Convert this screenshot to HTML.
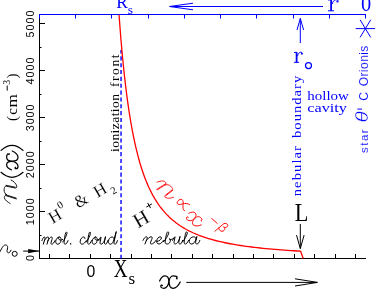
<!DOCTYPE html>
<html><head><meta charset="utf-8"><style>
html,body{margin:0;padding:0;background:#fff;overflow:hidden}
svg{display:block;will-change:transform}
</style></head><body>
<svg width="389" height="291" viewBox="0 0 389 291">
<rect width="389" height="291" fill="#fff"/>
<path d="M39.5 259.0V14.5" stroke="#000000" stroke-width="1" fill="none"/>
<path d="M39.0 258.5H366.0" stroke="#000000" stroke-width="1" fill="none"/>
<path d="M39.0 14.5H366.0" stroke="#0000ff" stroke-width="1" fill="none"/>
<path d="M39.5 258.50h5.5M39.5 235.50h2M39.5 211.50h5.5M39.5 188.50h2M39.5 164.50h5.5M39.5 141.50h2M39.5 117.50h5.5M39.5 94.50h2M39.5 70.50h5.5M39.5 47.50h2M39.5 23.50h5.5" stroke="#000000" stroke-width="1" fill="none"/>
<path d="M49.50 258.5v-4.5M69.50 258.5v-4.5M90.50 258.5v-4.5M110.50 258.5v-4.5M131.50 258.5v-4.5M151.50 258.5v-4.5M171.50 258.5v-4.5M192.50 258.5v-4.5M212.50 258.5v-4.5M233.50 258.5v-4.5M253.50 258.5v-4.5M273.50 258.5v-4.5M294.50 258.5v-4.5M314.50 258.5v-4.5M335.50 258.5v-4.5M355.50 258.5v-4.5" stroke="#000000" stroke-width="1" fill="none"/>
<path d="M365.50 14.5v4M329.50 14.5v4M293.50 14.5v4M256.50 14.5v4M220.50 14.5v4M184.50 14.5v4M148.50 14.5v4M111.50 14.5v4M75.50 14.5v4M39.5 14.5v4" stroke="#0000ff" stroke-width="1" fill="none"/>
<text transform="translate(34.2 257.90) rotate(-90)" text-anchor="middle" style="font-family:'Liberation Sans',sans-serif" font-size="10.8" textLength="6.0" lengthAdjust="spacing" fill="#000000">0</text>
<text transform="translate(34.2 211.82) rotate(-90)" text-anchor="middle" style="font-family:'Liberation Sans',sans-serif" font-size="10.8" textLength="27.0" lengthAdjust="spacing" fill="#000000">1000</text>
<text transform="translate(34.2 164.84) rotate(-90)" text-anchor="middle" style="font-family:'Liberation Sans',sans-serif" font-size="10.8" textLength="27.0" lengthAdjust="spacing" fill="#000000">2000</text>
<text transform="translate(34.2 117.86) rotate(-90)" text-anchor="middle" style="font-family:'Liberation Sans',sans-serif" font-size="10.8" textLength="27.0" lengthAdjust="spacing" fill="#000000">3000</text>
<text transform="translate(34.2 70.88) rotate(-90)" text-anchor="middle" style="font-family:'Liberation Sans',sans-serif" font-size="10.8" textLength="27.0" lengthAdjust="spacing" fill="#000000">4000</text>
<text transform="translate(34.2 23.90) rotate(-90)" text-anchor="middle" style="font-family:'Liberation Sans',sans-serif" font-size="10.8" textLength="27.0" lengthAdjust="spacing" fill="#000000">5000</text>
<text x="86.4" y="276.8" style="font-family:'Liberation Sans',sans-serif" font-size="16.4" textLength="8.8" lengthAdjust="spacingAndGlyphs" fill="#000000">0</text>
<path d="M121.05 258.5V50" stroke="#0000ff" stroke-width="1.4" stroke-dasharray="4.1 2.74" stroke-dashoffset="0.3" fill="none"/>
<path d="M119.05 14.71 L119.05 14.78 L119.07 15.02 L119.10 15.47 L119.15 16.13 L119.22 17.03 L119.30 18.16 L119.40 19.53 L119.52 21.15 L119.66 23.00 L119.82 25.10 L120.00 27.43 L120.20 29.98 L120.42 32.76 L120.66 35.74 L120.92 38.93 L121.21 42.30 L121.51 45.86 L121.85 49.57 L122.20 53.43 L122.57 57.43 L122.97 61.55 L123.40 65.77 L123.84 70.09 L124.31 74.48 L124.81 78.93 L125.33 83.43 L125.87 87.96 L126.44 92.51 L127.03 97.07 L127.65 101.62 L128.29 106.16 L128.96 110.66 L129.66 115.13 L130.38 119.56 L131.12 123.93 L131.89 128.24 L132.69 132.47 L133.52 136.64 L134.37 140.72 L135.24 144.72 L136.15 148.62 L137.08 152.44 L138.04 156.16 L139.02 159.79 L140.03 163.31 L141.07 166.74 L142.14 170.06 L143.23 173.29 L144.36 176.41 L145.51 179.44 L146.68 182.37 L147.89 185.20 L149.12 187.93 L150.39 190.57 L151.68 193.11 L153.00 195.57 L154.35 197.93 L155.72 200.21 L157.13 202.41 L158.56 204.52 L160.03 206.55 L161.52 208.50 L163.04 210.38 L164.59 212.18 L166.17 213.92 L167.78 215.59 L169.42 217.19 L171.09 218.72 L172.79 220.20 L174.51 221.61 L176.27 222.97 L178.06 224.28 L179.88 225.53 L181.73 226.73 L183.61 227.88 L185.51 228.99 L187.45 230.05 L189.42 231.07 L191.42 232.04 L193.45 232.98 L195.52 233.88 L197.61 234.74 L199.73 235.57 L201.88 236.36 L204.07 237.13 L206.29 237.86 L208.53 238.56 L210.81 239.23 L213.12 239.88 L215.46 240.50 L217.83 241.10 L220.24 241.67 L222.67 242.22 L225.14 242.74 L227.64 243.25 L230.17 243.74 L232.73 244.20 L235.33 244.65 L237.95 245.09 L240.61 245.50 L243.30 245.90 L246.02 246.28 L248.78 246.65 L251.57 247.01 L254.39 247.35 L257.24 247.67 L260.12 247.99 L263.04 248.29 L265.99 248.59 L268.97 248.87 L271.99 249.14 L275.03 249.40 L278.11 249.65 L281.23 249.89 L284.37 250.12 L287.55 250.35 L290.76 250.57 L294.01 250.77 L297.29 250.98 L300.60 251.17 L303.2 258.5" stroke="#ff0000" stroke-width="1.3" fill="none" stroke-linejoin="round"/>
<path d="M323 6.5H170M193 3.2L169.5 6.5L193 9.8" stroke="#0000ff" stroke-width="1" fill="none"/>
<path d="M186.3 282.4H317M295 278.8L317.5 282.4L295 286" stroke="#000000" stroke-width="1" fill="none"/>
<path d="M300.3 43V18.6M297 30L300.3 18.4L303.6 30" stroke="#0000ff" stroke-width="1" fill="none"/>
<path d="M300.3 224V248.3M296.5 235.1L300.3 248.6L304.1 235.1" stroke="#000000" stroke-width="1" fill="none"/>
<path d="M23.2 251.1H39" stroke="#000000" stroke-width="1" fill="none"/><path d="M28.2 248.9L39.4 251.1L28.2 253.3Z" fill="#000000"/>
<path d="M355.7 28.6H375.09999999999997M360.09999999999997 19.8L370.7 37.400000000000006M370.7 19.8L360.09999999999997 37.400000000000006" stroke="#0000ff" stroke-width="1" fill="none"/>
<text x="116.2" y="8.4" style="font-family:'Liberation Serif',serif" font-size="18" textLength="11.6" lengthAdjust="spacingAndGlyphs" fill="#0000ff">R</text>
<text x="127.8" y="13.9" style="font-family:'Liberation Serif',serif" font-size="13.5" fill="#0000ff">s</text>
<g transform="translate(328.0 10.9) scale(1.2 -1.1)" fill="none" stroke="#0000ff" stroke-linecap="butt"><path d="M2.6 0V10.2" stroke-width="1.8" vector-effect="non-scaling-stroke"/><path d="M0 0.1H5.0M0 9.9L2.6 10.1M3.5 6.2C4.0 8.8 5.4 10.2 6.8 10.2C7.8 10.2 8.3 9.6 8.3 9" stroke-width="1" vector-effect="non-scaling-stroke"/><circle cx="7.9" cy="8.6" r="0.95" fill="#0000ff" stroke="none"/></g>
<text x="361.0" y="11.0" style="font-family:'Liberation Serif',serif" font-size="23" textLength="10.2" lengthAdjust="spacingAndGlyphs" fill="#0000ff">0</text>
<g transform="translate(294.0 62.4) scale(1.0 -1.0)" fill="none" stroke="#0000ff" stroke-linecap="butt"><path d="M2.6 0V10.2" stroke-width="1.8" vector-effect="non-scaling-stroke"/><path d="M0 0.1H5.0M0 9.9L2.6 10.1M3.5 6.2C4.0 8.8 5.4 10.2 6.8 10.2C7.8 10.2 8.3 9.6 8.3 9" stroke-width="1" vector-effect="non-scaling-stroke"/><circle cx="7.9" cy="8.6" r="0.95" fill="#0000ff" stroke="none"/></g>
<circle cx="308.5" cy="65.6" r="3.0" stroke="#0000ff" stroke-width="1.2" fill="none"/>
<text x="307.3" y="99.8" style="font-family:'Liberation Serif',serif" font-size="13" textLength="41.6" lengthAdjust="spacingAndGlyphs" fill="#0000ff">hollow</text>
<text x="307.3" y="112" style="font-family:'Liberation Serif',serif" font-size="13" textLength="39.7" lengthAdjust="spacingAndGlyphs" fill="#0000ff">cavity</text>
<text transform="translate(301.0 196.3) rotate(-90) scale(1 0.82)" style="font-family:'Liberation Serif',serif" font-size="14.6" textLength="50.3" lengthAdjust="spacing" fill="#0000ff">nebular</text>
<text transform="translate(301.0 138.0) rotate(-90) scale(1 0.82)" style="font-family:'Liberation Serif',serif" font-size="14.6" textLength="62.3" lengthAdjust="spacing" fill="#0000ff">boundary</text>
<text transform="translate(118.8 152.0) rotate(-90) scale(1 0.88)" style="font-family:'Liberation Serif',serif" font-size="13.6" textLength="58.0" lengthAdjust="spacing" fill="#000000">ionization</text>
<text transform="translate(118.8 87.0) rotate(-90) scale(1 0.88)" style="font-family:'Liberation Serif',serif" font-size="13.6" textLength="32.5" lengthAdjust="spacing" fill="#000000">front</text>
<text transform="translate(367.5 153) rotate(-90)" style="font-family:'Liberation Sans',sans-serif" font-size="11.5" textLength="23.7" lengthAdjust="spacing" fill="#0000ff" stroke="#fff" stroke-width="0.1">star</text>
<text transform="translate(367.6 122.6) rotate(-90)" style="font-family:'Liberation Sans',sans-serif" font-size="17.5" font-style="italic" textLength="11.2" lengthAdjust="spacingAndGlyphs" fill="#0000ff" stroke="#fff" stroke-width="0.45">θ</text>
<path d="M357.4 109.1H362" stroke="#0000ff" stroke-width="1" fill="none"/>
<text transform="translate(367.5 100.7) rotate(-90)" style="font-family:'Liberation Sans',sans-serif" font-size="12" fill="#0000ff" stroke="#fff" stroke-width="0.1">C</text>
<text transform="translate(367.5 86.2) rotate(-90)" style="font-family:'Liberation Sans',sans-serif" font-size="12" textLength="40.5" lengthAdjust="spacing" fill="#0000ff" stroke="#fff" stroke-width="0.1">Orionis</text>
<text transform="translate(17.4 121.0) rotate(-90)" style="font-family:'Liberation Serif',serif" font-size="15" fill="#000000" >(</text>
<text transform="translate(17.4 114.8) rotate(-90)" style="font-family:'Liberation Serif',serif" font-size="15" fill="#000000" >c</text>
<text transform="translate(17.4 107.6) rotate(-90)" style="font-family:'Liberation Serif',serif" font-size="15" fill="#000000" textLength="13.4" lengthAdjust="spacingAndGlyphs">m</text>
<path d="M7.2 90.6V85.5" stroke="#000000" stroke-width="1" fill="none"/>
<text transform="translate(10.1 84.7) rotate(-90)" style="font-family:'Liberation Serif',serif" font-size="9.8" fill="#000000" >3</text>
<text transform="translate(17.4 78.4) rotate(-90)" style="font-family:'Liberation Serif',serif" font-size="15" fill="#000000" >)</text>
<g transform="translate(17.6 203.5) rotate(-90) scale(1.0 1.0)"><path d="M 0 -7.5 C 1.5 -10 3.5 -12.6 5.3 -13.1 C 6.5 -13.5 7.6 -13 8 -12 L 4.6 -1.3 M 8.8 -12.2 L 5.4 -1.4 M 8.5 -10.8 C 9.5 -12.4 11.5 -13.6 13.7 -13.5 C 15.3 -13.4 16.7 -13 17.2 -12.2 L 17.4 -11.6 L 15.5 -2.5 C 15.3 -1.2 16.2 -0.5 17.6 -0.9 C 20 -1.6 22.3 -4 23.5 -6.5 M 18.2 -11.6 L 16.3 -2.4" fill="none" stroke="#000000" stroke-width="0.9" vector-effect="non-scaling-stroke" stroke-linecap="round" stroke-linejoin="round"/></g>
<g transform="translate(18.54 177.3) rotate(-90) scale(1.0 1.0)"><path d="M 5 -17.5 C 1 -13 0 -9 0 -6.5 C 0 -4 1 -0 5 4.5" fill="none" stroke="#000000" stroke-width="1.25" vector-effect="non-scaling-stroke" stroke-linecap="round" stroke-linejoin="round"/></g>
<g transform="translate(18.0 169.8) rotate(-90) scale(0.91 0.91)"><path d="M 0 -7.3 C 1 -10 3 -12.5 5.5 -12.5 C 8 -12.5 9.2 -10.5 9.2 -7 C 9.2 -3 6.5 -0 4 -0 C 2.3 -0 1.2 -1 1.2 -2.3 C 1.2 -3.2 2.2 -3.6 2.8 -2.8 M 17.6 -9.6 C 16.8 -9.2 16.6 -10.4 17.4 -10.8 C 18 -11.5 16 -12.5 13.8 -12.5 C 11 -12.5 9.5 -9.5 9.5 -6.2 C 9.5 -2.5 11 -0 13.5 -0 C 16 -0 19 -3 20.6 -6.3" fill="none" stroke="#000000" stroke-width="1.25" vector-effect="non-scaling-stroke" stroke-linecap="round" stroke-linejoin="round"/></g>
<g transform="translate(18.54 150.4) rotate(-90) scale(1.0 1.0)"><path d="M 0 -17.5 C 4 -13 5 -9 5 -6.5 C 5 -4 4 -0 0 4.5" fill="none" stroke="#000000" stroke-width="1.25" vector-effect="non-scaling-stroke" stroke-linecap="round" stroke-linejoin="round"/></g>
<path d="M-0.5 252.6C1.2 249.5 3 245 5.4 245C7.2 245 7.8 246.2 7.6 247.6L7.1 250.4C6.9 252.1 7.6 252.8 8.6 252.8C9.6 252.8 10.4 251.6 11 250.2" stroke="#000000" stroke-width="1" fill="none" stroke-linecap="round"/>
<circle cx="14.7" cy="253.8" r="2.5" stroke="#000000" stroke-width="1" fill="none"/>
<text x="113.7" y="276.9" style="font-family:'Liberation Serif',serif" font-size="25" textLength="13.8" lengthAdjust="spacingAndGlyphs" fill="#000000">X</text>
<text x="128.6" y="283.8" style="font-family:'Liberation Serif',serif" font-size="17" fill="#000000">s</text>
<g transform="translate(159.6 288.3) rotate(0) scale(1.0 1.0)"><path d="M 0 -7.3 C 1 -10 3 -12.5 5.5 -12.5 C 8 -12.5 9.2 -10.5 9.2 -7 C 9.2 -3 6.5 -0 4 -0 C 2.3 -0 1.2 -1 1.2 -2.3 C 1.2 -3.2 2.2 -3.6 2.8 -2.8 M 17.6 -9.6 C 16.8 -9.2 16.6 -10.4 17.4 -10.8 C 18 -11.5 16 -12.5 13.8 -12.5 C 11 -12.5 9.5 -9.5 9.5 -6.2 C 9.5 -2.5 11 -0 13.5 -0 C 16 -0 19 -3 20.6 -6.3" fill="none" stroke="#000000" stroke-width="1.25" vector-effect="non-scaling-stroke" stroke-linecap="round" stroke-linejoin="round"/></g>
<text x="294.8" y="220.8" style="font-family:'Liberation Serif',serif" font-size="26" textLength="13.6" lengthAdjust="spacingAndGlyphs" fill="#000000">L</text>
<g transform="translate(41.9 244.2) scale(0.7081 0.7200)"><path d="M 0 -5 C 1 -7.5 2 -10 3.5 -10 C 4.8 -10 4.5 -8 4 -6.5 L 2 -0 M 3.3 -4.5 C 4.8 -7.5 6.8 -10 8.5 -10 C 9.8 -10 9.6 -8 9.1 -6.5 L 7.2 -0 M 8.4 -4.5 C 9.9 -7.5 11.9 -10 13.6 -10 C 15 -10 14.7 -8 14.2 -6.5 L 13 -2.5 C 12.5 -0.7 13 -0 14 -0 C 15.5 -0 17 -2 18.5 -5" fill="none" stroke="#000" stroke-width="1.0" vector-effect="non-scaling-stroke" stroke-linecap="round" stroke-linejoin="round"/></g>
<g transform="translate(55 244.2) scale(0.7130 0.7200)"><path d="M 6 -10 C 3.5 -10 1 -7 1 -3.5 C 1 -1.2 2.2 -0 4 -0 C 6.5 -0 8.5 -3 8.5 -6.5 C 8.5 -8.8 7.5 -10 6 -10 C 5 -10 4.5 -9 5 -7.5 C 5.8 -5.5 8.5 -5 10.8 -6.5" fill="none" stroke="#000" stroke-width="1.0" vector-effect="non-scaling-stroke" stroke-linecap="round" stroke-linejoin="round"/></g>
<g transform="translate(62.7 244.2) scale(0.7067 0.7200)"><path d="M 0 -3 C 2.5 -6 5.5 -12 6 -15 C 6.3 -17 5 -17.5 4.3 -16 C 3.2 -13.5 2.2 -6 2 -2.5 C 1.9 -0.8 2.5 -0 3.5 -0 C 5 -0 6.3 -2 7.5 -5" fill="none" stroke="#000" stroke-width="1.0" vector-effect="non-scaling-stroke" stroke-linecap="round" stroke-linejoin="round"/></g>
<g transform="translate(69.5 244.2) scale(0.7500 0.7200)"><path d="M 1.2 -0.2 L 1.9 -0.9 M 1.9 -0.2 L 1.2 -0.9" fill="none" stroke="#000" stroke-width="1.0" vector-effect="non-scaling-stroke" stroke-linecap="round" stroke-linejoin="round"/></g>
<g transform="translate(79.5 244.2) scale(0.6869 0.7200)"><path d="M 8 -8 C 8 -9.5 7 -10 6 -10 C 3.5 -10 1 -7 1 -3.5 C 1 -1.2 2.2 -0 4 -0 C 6 -0 8.3 -2.5 9.9 -5" fill="none" stroke="#000" stroke-width="1.0" vector-effect="non-scaling-stroke" stroke-linecap="round" stroke-linejoin="round"/></g>
<g transform="translate(86.3 244.2) scale(0.6933 0.7200)"><path d="M 0 -3 C 2.5 -6 5.5 -12 6 -15 C 6.3 -17 5 -17.5 4.3 -16 C 3.2 -13.5 2.2 -6 2 -2.5 C 1.9 -0.8 2.5 -0 3.5 -0 C 5 -0 6.3 -2 7.5 -5" fill="none" stroke="#000" stroke-width="1.0" vector-effect="non-scaling-stroke" stroke-linecap="round" stroke-linejoin="round"/></g>
<g transform="translate(91.5 244.2) scale(0.6759 0.7200)"><path d="M 6 -10 C 3.5 -10 1 -7 1 -3.5 C 1 -1.2 2.2 -0 4 -0 C 6.5 -0 8.5 -3 8.5 -6.5 C 8.5 -8.8 7.5 -10 6 -10 C 5 -10 4.5 -9 5 -7.5 C 5.8 -5.5 8.5 -5 10.8 -6.5" fill="none" stroke="#000" stroke-width="1.0" vector-effect="non-scaling-stroke" stroke-linecap="round" stroke-linejoin="round"/></g>
<g transform="translate(98.8 244.2) scale(0.7500 0.7200)"><path d="M 0 -5 C 1 -7.5 2 -10 3 -10 L 1.8 -3 C 1.4 -1 2 -0 3.2 -0 C 5 -0 7 -3.5 8 -6.5 L 8.8 -10 M 8.8 -10 L 7.5 -3 C 7.2 -1 7.8 -0 9 -0 C 10.2 -0 11.2 -2 12 -5" fill="none" stroke="#000" stroke-width="1.0" vector-effect="non-scaling-stroke" stroke-linecap="round" stroke-linejoin="round"/></g>
<g transform="translate(107.8 244.2) scale(0.7619 0.7200)"><path d="M 8.3 -7 C 8 -9 7 -10 5.5 -10 C 3 -10 0.8 -7 0.8 -3.5 C 0.8 -1.2 2 -0 3.6 -0 C 5.5 -0 7.3 -3 8.3 -7 L 11 -17 M 11 -17 L 8.2 -3 C 7.8 -1 8.4 -0 9.5 -0 C 10.8 -0 11.8 -2 12.6 -5" fill="none" stroke="#000" stroke-width="1.0" vector-effect="non-scaling-stroke" stroke-linecap="round" stroke-linejoin="round"/></g>
<g transform="translate(143 244.0) scale(0.9627 0.7200)"><path d="M 0 -5 C 1 -7.5 2 -10 3.5 -10 C 4.8 -10 4.5 -8 4 -6.5 L 2 -0 M 3.3 -4.5 C 4.8 -7.5 6.8 -10 8.5 -10 C 9.9 -10 9.6 -8 9.1 -6.5 L 7.9 -2.5 C 7.4 -0.7 7.9 -0 8.9 -0 C 10.4 -0 11.9 -2 13.4 -5" fill="none" stroke="#000" stroke-width="1.0" vector-effect="non-scaling-stroke" stroke-linecap="round" stroke-linejoin="round"/></g>
<g transform="translate(155.9 244.0) scale(0.7895 0.7200)"><path d="M 1.5 -3.5 C 4 -4 7 -6 7 -8.5 C 7 -9.5 6.3 -10 5.5 -10 C 3.3 -10 1 -7 1 -3.5 C 1 -1.2 2.2 -0 4 -0 C 6 -0 8 -2.5 9.5 -5" fill="none" stroke="#000" stroke-width="1.0" vector-effect="non-scaling-stroke" stroke-linecap="round" stroke-linejoin="round"/></g>
<g transform="translate(163.4 244.0) scale(0.8762 0.7200)"><path d="M 0 -3 C 2.5 -6 5.5 -12 6 -15 C 6.3 -17 5 -17.5 4.3 -16 C 3.2 -13.5 2.2 -6 2 -2.5 C 1.9 -0.8 3 -0 4.5 -0 C 6.5 -0 8 -2.5 8 -5.5 C 8 -7 7.2 -7.5 6.5 -7 C 7.5 -6 9 -6 10.5 -7" fill="none" stroke="#000" stroke-width="1.0" vector-effect="non-scaling-stroke" stroke-linecap="round" stroke-linejoin="round"/></g>
<g transform="translate(172.6 244.0) scale(0.8333 0.7200)"><path d="M 0 -5 C 1 -7.5 2 -10 3 -10 L 1.8 -3 C 1.4 -1 2 -0 3.2 -0 C 5 -0 7 -3.5 8 -6.5 L 8.8 -10 M 8.8 -10 L 7.5 -3 C 7.2 -1 7.8 -0 9 -0 C 10.2 -0 11.2 -2 12 -5" fill="none" stroke="#000" stroke-width="1.0" vector-effect="non-scaling-stroke" stroke-linecap="round" stroke-linejoin="round"/></g>
<g transform="translate(182.6 244.0) scale(0.7867 0.7200)"><path d="M 0 -3 C 2.5 -6 5.5 -12 6 -15 C 6.3 -17 5 -17.5 4.3 -16 C 3.2 -13.5 2.2 -6 2 -2.5 C 1.9 -0.8 2.5 -0 3.5 -0 C 5 -0 6.3 -2 7.5 -5" fill="none" stroke="#000" stroke-width="1.0" vector-effect="non-scaling-stroke" stroke-linecap="round" stroke-linejoin="round"/></g>
<g transform="translate(188.5 244.0) scale(0.9187 0.7200)"><path d="M 8.3 -7 C 8 -9 7 -10 5.5 -10 C 3 -10 0.8 -7 0.8 -3.5 C 0.8 -1.2 2 -0 3.6 -0 C 5.5 -0 7.3 -3 8.3 -7 L 9 -10 M 9 -10 L 7.8 -3 C 7.5 -1 8 -0 9.2 -0 C 10.5 -0 11.5 -2 12.3 -5" fill="none" stroke="#000" stroke-width="1.0" vector-effect="non-scaling-stroke" stroke-linecap="round" stroke-linejoin="round"/></g>
<text transform="translate(52.6 224.0) rotate(-30)" style="font-family:'Liberation Serif',serif" font-size="17" fill="#000000" stroke="#fff" stroke-width="0.12" >H</text>
<text transform="translate(59.6 209.3) rotate(-30)" style="font-family:'Liberation Serif',serif" font-size="10.5" fill="#000000" stroke="#fff" stroke-width="0" >0</text>
<text transform="translate(78.0 208.6) rotate(-30)" style="font-family:'Liberation Serif',serif" font-size="17" fill="#000000" stroke="#fff" stroke-width="0.12" >&amp;</text>
<text transform="translate(97.5 198.0) rotate(-30)" style="font-family:'Liberation Serif',serif" font-size="17" fill="#000000" stroke="#fff" stroke-width="0.12" >H</text>
<text transform="translate(113.0 194.8) rotate(-30)" style="font-family:'Liberation Serif',serif" font-size="10.5" fill="#000000" stroke="#fff" stroke-width="0" >2</text>
<text transform="translate(138.0 228.5) rotate(-30)" style="font-family:'Liberation Serif',serif" font-size="20.5" fill="#000000" stroke="#fff" stroke-width="0.12" >H</text>
<path d="M146.3 207.1L151.9 203.9M147.6 202.9L150.6 208.1" stroke="#000000" stroke-width="1" fill="none"/>
<g transform="translate(152.5 187.6) rotate(40) scale(0.95 0.95)"><path d="M 0 -7.5 C 1.5 -10 3.5 -12.6 5.3 -13.1 C 6.5 -13.5 7.6 -13 8 -12 L 4.6 -1.3 M 8.8 -12.2 L 5.4 -1.4 M 8.5 -10.8 C 9.5 -12.4 11.5 -13.6 13.7 -13.5 C 15.3 -13.4 16.7 -13 17.2 -12.2 L 17.4 -11.6 L 15.5 -2.5 C 15.3 -1.2 16.2 -0.5 17.6 -0.9 C 20 -1.6 22.3 -4 23.5 -6.5 M 18.2 -11.6 L 16.3 -2.4" fill="none" stroke="#ff0000" stroke-width="0.85" vector-effect="non-scaling-stroke" stroke-linecap="round" stroke-linejoin="round"/></g>
<g transform="translate(182.7 204.1) rotate(40) scale(1.0 1.0)"><path d="M 5.7 -4 C 3.2 -4 1.2 -2.1 -0.3 -0 C -1.8 2.4 -3.3 3.4 -4.3 3.1 C -5.6 2.7 -5.8 0.9 -5.5 -0.6 C -5 -2.6 -3.8 -3.4 -2.3 -2.8 C -0.8 -2.1 0.2 -0.6 1.2 0.9 C 2.2 2.6 3.7 4 5.7 4" fill="none" stroke="#ff0000" stroke-width="0.95" vector-effect="non-scaling-stroke" stroke-linecap="round" stroke-linejoin="round"/></g>
<g transform="translate(184.9 217.9) rotate(40) scale(0.83 0.83)"><path d="M 0 -7.3 C 1 -10 3 -12.5 5.5 -12.5 C 8 -12.5 9.2 -10.5 9.2 -7 C 9.2 -3 6.5 -0 4 -0 C 2.3 -0 1.2 -1 1.2 -2.3 C 1.2 -3.2 2.2 -3.6 2.8 -2.8 M 17.6 -9.6 C 16.8 -9.2 16.6 -10.4 17.4 -10.8 C 18 -11.5 16 -12.5 13.8 -12.5 C 11 -12.5 9.5 -9.5 9.5 -6.2 C 9.5 -2.5 11 -0 13.5 -0 C 16 -0 19 -3 20.6 -6.3" fill="none" stroke="#ff0000" stroke-width="0.95" vector-effect="non-scaling-stroke" stroke-linecap="round" stroke-linejoin="round"/></g>
<path d="M211.3 218.2L217.5 223.6" stroke="#ff0000" stroke-width="1" fill="none"/>
<g transform="translate(217.2 228.3) rotate(38) scale(0.92 0.82)"><path d="M 0 4.5 L 2.2 -8 C 2.7 -10.5 4 -11.5 5.5 -11.5 C 7 -11.5 7.8 -10.3 7.5 -8.8 C 7.2 -7.2 6 -6.2 4.3 -6.2 C 6.3 -6.2 7.6 -5 7.3 -3 C 7 -1 5.5 -0 4 -0 C 2.8 -0 1.8 -0.6 1.2 -1.8" fill="none" stroke="#ff0000" stroke-width="0.95" vector-effect="non-scaling-stroke" stroke-linecap="round" stroke-linejoin="round"/></g>
</svg>
</body></html>
